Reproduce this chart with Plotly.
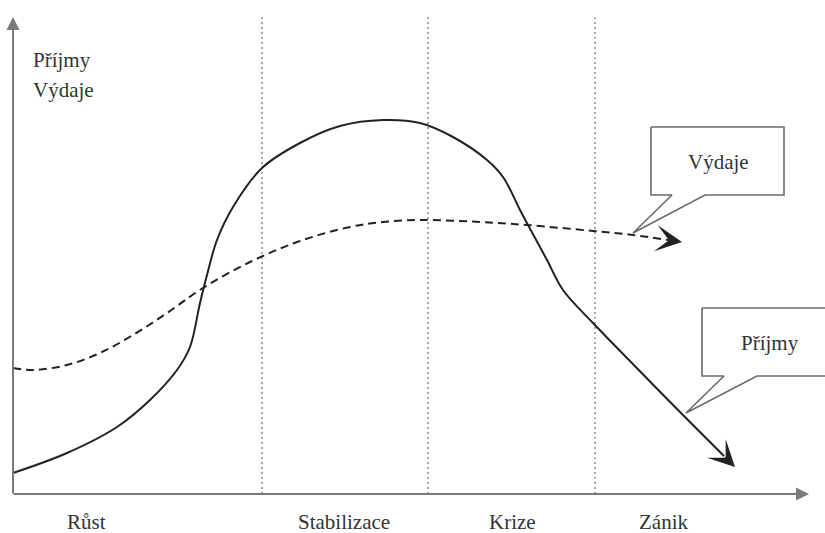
import plotly.graph_objects as go

W, H = 825, 533

# ---- data (x in horizontal units, y = level, higher = more) ----
prijmy_x = [13, 67, 117, 150, 177, 190, 200, 207, 217, 233, 262, 300, 340, 383, 420,
            453, 487, 503, 520, 528, 547, 563, 593, 627, 680, 724]
prijmy_y = [60, 80, 106, 133, 163, 186, 230, 258, 293, 326, 365, 390, 407, 413, 410,
            396, 373, 356, 323, 308, 273, 243, 210, 175, 121, 77]

vydaje_x = [13, 33, 67, 100, 133, 167, 203, 250, 300, 350, 383, 420, 480, 527, 593, 633, 668]
vydaje_y = [165, 163, 168, 180, 198, 220, 245, 271, 292, 306, 311, 313, 311, 308, 302, 298, 293]

phase_bounds = [262, 428, 595]
phase_labels = ["Růst", "Stabilizace", "Krize", "Zánik"]
phase_label_x = [86, 344, 512, 663]

axis_title_lines = ["Příjmy", "Výdaje"]
callout_texts = ["Výdaje", "Příjmy"]

# ---- styling / geometry ----
def v(py):
    return H - py

INK = "#222222"
AXIS = "#7a7a7a"
FONT = "Liberation Serif"
FS = 21

fig = go.Figure()

# dotted phase separators
for xb in phase_bounds:
    fig.add_shape(type="line", x0=xb, x1=xb, y0=v(494), y1=v(15),
                  line=dict(color="#8a8a8a", width=1.5, dash="2px,3px"), layer="below")

# curves
fig.add_trace(go.Scatter(x=vydaje_x, y=vydaje_y, mode="lines",
                         line=dict(color=INK, width=2, dash="8px,5px", shape="spline", smoothing=1.0),
                         hoverinfo="skip", showlegend=False))
fig.add_trace(go.Scatter(x=prijmy_x, y=prijmy_y, mode="lines",
                         line=dict(color=INK, width=2, shape="spline", smoothing=1.0),
                         hoverinfo="skip", showlegend=False))

annotations = []
# axis arrows
annotations.append(dict(x=13, y=v(17), ax=13, ay=v(495), xref="x", yref="y", axref="x", ayref="y",
                        text="", showarrow=True, arrowhead=2, arrowsize=1.3, arrowwidth=2, arrowcolor=AXIS))
annotations.append(dict(x=809, y=v(494), ax=12, ay=v(494), xref="x", yref="y", axref="x", ayref="y",
                        text="", showarrow=True, arrowhead=2, arrowsize=1.3, arrowwidth=2, arrowcolor=AXIS))
# curve arrowheads
annotations.append(dict(x=735, y=66, ax=prijmy_x[-1], ay=prijmy_y[-1], xref="x", yref="y", axref="x", ayref="y",
                        text="", showarrow=True, arrowhead=3, arrowsize=2.2, arrowwidth=2, arrowcolor=INK))
annotations.append(dict(x=682, y=291, ax=vydaje_x[-1], ay=vydaje_y[-1], xref="x", yref="y", axref="x", ayref="y",
                        text="", showarrow=True, arrowhead=3, arrowsize=2.2, arrowwidth=2, arrowcolor=INK))

# axis title
for i, t in enumerate(axis_title_lines):
    annotations.append(dict(x=31, y=v(60 + 30 * i), xref="x", yref="y", text=t, showarrow=False,
                            xanchor="left", yanchor="middle", font=dict(family=FONT, size=FS, color="#333")))
# phase labels
for lx, t in zip(phase_label_x, phase_labels):
    annotations.append(dict(x=lx, y=v(522), xref="x", yref="y", text=t, showarrow=False,
                            xanchor="center", yanchor="middle", font=dict(family=FONT, size=FS, color="#333")))

# callouts
callouts = [
    dict(box=(651, 127, 784, 195), base=(672, 705), tip=(633, 233), text_pos=(718, 162), text=callout_texts[0]),
    dict(box=(702, 308, 840, 376), base=(724, 757), tip=(686, 413), text_pos=(770, 343), text=callout_texts[1]),
]
for c in callouts:
    x0, y0, x1, y1 = c["box"]
    b0, b1 = c["base"]
    tx, ty = c["tip"]
    px = [x0, x1, x1, b1, tx, b0, x0, x0]
    py = [y0, y0, y1, y1, ty, y1, y1, y0]
    fig.add_trace(go.Scatter(x=px, y=[v(p) for p in py], mode="lines", fill="toself",
                             fillcolor="white", line=dict(color="#6a6a6a", width=1.6),
                             hoverinfo="skip", showlegend=False))
    annotations.append(dict(x=c["text_pos"][0], y=v(c["text_pos"][1]), xref="x", yref="y", text=c["text"],
                            showarrow=False, xanchor="center", yanchor="middle",
                            font=dict(family=FONT, size=FS, color="#333")))

fig.update_layout(
    width=W, height=H, autosize=False,
    margin=dict(l=0, r=0, t=0, b=0),
    paper_bgcolor="white", plot_bgcolor="white",
    xaxis=dict(range=[0, W], visible=False, fixedrange=True),
    yaxis=dict(range=[0, H], visible=False, fixedrange=True),
    annotations=annotations,
    showlegend=False,
)

fig.write_html("out.html", config={"displayModeBar": False},
               post_script="document.body.style.margin='0';document.body.style.overflow='hidden';")
